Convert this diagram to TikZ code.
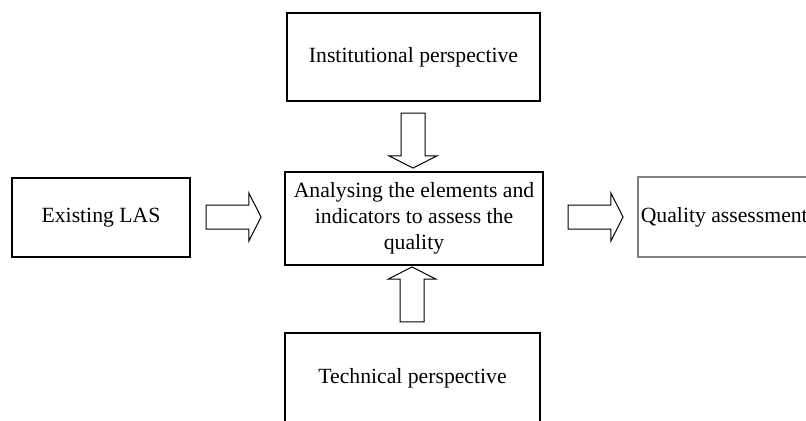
\documentclass[tikz,border=0pt]{standalone}
\usepackage{fontspec}
\setmainfont{Liberation Serif}
\usetikzlibrary{shapes.arrows}

\tikzset{
  box/.style={draw, line width=0.8pt, inner sep=0pt, align=center,
    font=\fontsize{10.85}{13}\selectfont},
  blockarrow/.style={draw, single arrow, line width=0.5pt, inner sep=5.75pt,
    minimum height=27.5pt,
    single arrow head extend=6pt, single arrow tip angle=126}
}

\begin{document}
\begin{tikzpicture}[x=0.5pt,y=-0.5pt]
\useasboundingbox (0,0) rectangle (806,420);

% boxes
\node[box, minimum width=126.5pt, minimum height=44pt] (inst) at (413.5,57) {Institutional perspective};
\node[box, minimum width=129pt, minimum height=46.5pt] (anal) at (414,218.5)
  {Analysing the elements and\\ indicators to assess the\\ quality};
\node[box, minimum width=127.5pt, minimum height=45pt] (tech) at (412.5,378) {Technical perspective};
\node[box, minimum width=89pt, minimum height=39.5pt] (exist) at (101,217.5) {Existing LAS};
\node[box, draw=gray, anchor=west, inner xsep=1.5pt, minimum height=40pt] (qual) at (637,217) {Quality assessment};

% block arrows
\node[blockarrow] (a1) at (230.5,217) {};
\node[blockarrow] (a2) at (592.5,217) {};
\node[blockarrow, shape border rotate=270] (a3) at (413,137.5) {};
\node[blockarrow, shape border rotate=90] (a4) at (412,297.5) {};

\end{tikzpicture}
\end{document}
